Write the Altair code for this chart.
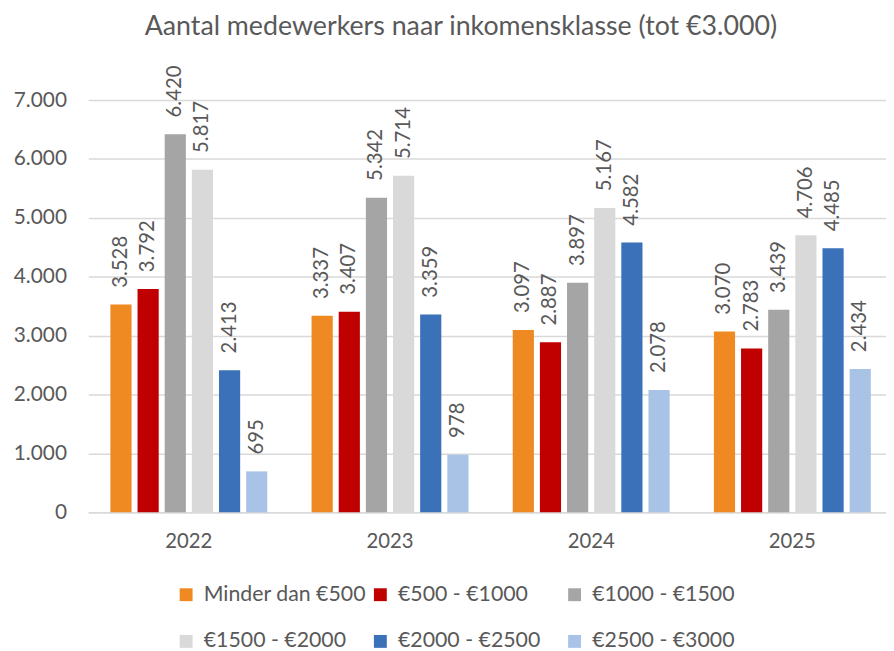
import altair as alt
import pandas as pd

title_text = "Aantal medewerkers naar inkomensklasse (tot €3.000)"
years = ["2022", "2023", "2024", "2025"]
series = ["Minder dan €500", "€500 - €1000", "€1000 - €1500",
          "€1500 - €2000", "€2000 - €2500", "€2500 - €3000"]
colors = ["#EF8A22", "#C00000", "#A5A5A5", "#D9D9D9", "#3A71B8", "#A8C3E5"]
values = {
    "2022": [3528, 3792, 6420, 5817, 2413, 695],
    "2023": [3337, 3407, 5342, 5714, 3359, 978],
    "2024": [3097, 2887, 3897, 5167, 4582, 2078],
    "2025": [3070, 2783, 3439, 4706, 4485, 2434],
}
y_ticks = [0, 1000, 2000, 3000, 4000, 5000, 6000, 7000]

rows = []
for y in years:
    for s, v in zip(series, values[y]):
        rows.append({"jaar": y, "klasse": s, "aantal": v,
                     "label": f"{v:,}".replace(",", ".")})
df = pd.DataFrame(rows)

FONT = "Lato"
TXT = "#595959"

x_enc = alt.X("jaar:N", sort=years, title=None,
              scale=alt.Scale(range=[0, 812], paddingInner=0.22, paddingOuter=0.11),
              axis=alt.Axis(labelAngle=0, labelFontSize=20.5, labelColor=TXT,
                            labelFont=FONT, ticks=False, domain=True,
                            domainColor="#D9D9D9", domainWidth=1.5,
                            labelPadding=19))
xo_enc = alt.XOffset("klasse:N", sort=series,
                     scale=alt.Scale(paddingInner=0.22, paddingOuter=0))
y_enc = alt.Y("aantal:Q", title=None,
              scale=alt.Scale(domain=[0, 7000], nice=False),
              axis=alt.Axis(values=y_ticks, labelFontSize=21, labelColor=TXT,
                            labelFont=FONT, ticks=False, domain=False,
                            gridColor="#D9D9D9", gridWidth=1.5, labelPadding=22,
                            labelExpr="replace(format(datum.value, ','), ',', '.')"))

bars = alt.Chart(df).mark_bar().encode(
    x=x_enc, xOffset=xo_enc, y=y_enc,
    color=alt.Color("klasse:N", sort=series,
                    scale=alt.Scale(domain=series, range=colors),
                    legend=alt.Legend(title=None, orient="none", legendX=88,
                                      legendY=488, columns=3, direction="horizontal",
                                      gridAlign="all", labelLimit=400,
                                      labelFontSize=21.5, labelColor=TXT, labelFont=FONT,
                                      symbolType="square", symbolSize=169,
                                      symbolStrokeWidth=0, columnPadding=3,
                                      rowPadding=24.5, labelOffset=7)),
)

labels = alt.Chart(df).mark_text(
    angle=270, align="left", baseline="middle", dx=17, fontSize=20.5,
    font=FONT, color=TXT,
).encode(x=x_enc, xOffset=xo_enc, y=y_enc, text="label:N")

title = alt.Chart(pd.DataFrame({"t": [title_text]})).mark_text(
    fontSize=27, font=FONT, color=TXT, align="center", baseline="alphabetic",
).encode(text="t:N", x=alt.value(376), y=alt.value(-66))

chart = (bars + labels + title).properties(
    width=805, height=416,
    padding={"left": 81, "top": 90, "right": 0, "bottom": 137},
    autosize=alt.AutoSizeParams(type="none"),
).configure_view(stroke=None)

chart.save("out.html", embed_options={"renderer": "svg", "actions": False})
